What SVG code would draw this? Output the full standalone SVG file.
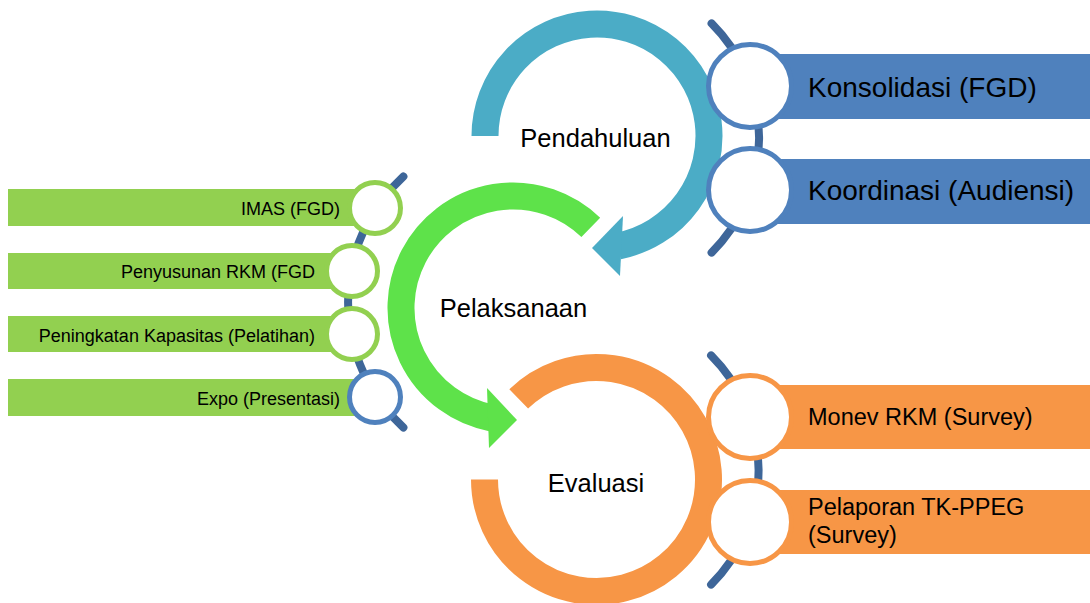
<svg xmlns="http://www.w3.org/2000/svg" width="1090" height="603" viewBox="0 0 1090 603">
<style>
text{font-family:"Liberation Sans",Arial,sans-serif;fill:#000}
.stage{font-size:25.5px;text-anchor:middle}
.arc{fill:none;stroke-width:27;stroke-linecap:butt}
.conn{fill:none;stroke:#3E6699;stroke-width:8;stroke-linecap:round}
.bc{fill:#fff;stroke:#4F81BD;stroke-width:5}
.oc{fill:#fff;stroke:#F79646;stroke-width:5}
.gc{fill:#fff;stroke:#92D050;stroke-width:5}
.gcb{fill:#fff;stroke:#4F81BD;stroke-width:5}
.br{fill:#4F81BD}
.or{fill:#F79646}
.gr{fill:#92D050}
.bt{font-size:28px}
.ot{font-size:23.5px}
.gt{font-size:18px;text-anchor:end}
</style>
<rect width="1090" height="603" fill="#fff"/>
<g id="stage-pendahuluan">
<path class="arc" stroke="#4BACC6" d="M485,136 A112,112 0 1 1 618.4,245.9"/>
<polygon fill="#4BACC6" points="623,216 592,248 620,276"/>
<text class="stage" x="595.5" y="147">Pendahuluan</text>
</g>
<g id="stage-pelaksanaan">
<path class="arc" stroke="#5EE24A" d="M590.8,227.4 A112,112 0 1 0 491.6,417.9"/>
<polygon fill="#5EE24A" points="487,388 517,420 489,448"/>
<text class="stage" x="513.5" y="317">Pelaksanaan</text>
</g>
<g id="stage-evaluasi">
<path class="arc" stroke="#F79646" d="M518.7,398.9 A112,112 0 1 1 484.5,479.5"/>
<text class="stage" x="596" y="492">Evaluasi</text>
</g>
<g id="connectors">
<path class="conn" d="M711.6,23.4 A162,162 0 0 1 711.6,252.6"/>
<path class="conn" d="M711.1,355.4 A162,162 0 0 1 711.1,584.6"/>
<path class="conn" d="M403.4,176.5 A170,170 0 0 0 403.4,427.5"/>
</g>
<g id="item-konsolidasi">
<rect class="br" x="750" y="54" width="340" height="65"/>
<circle class="bc" cx="750" cy="86" r="41.5"/>
<text class="bt" x="808" y="97">Konsolidasi (FGD)</text>
</g>
<g id="item-koordinasi">
<rect class="br" x="750" y="159" width="340" height="65"/>
<circle class="bc" cx="750" cy="190" r="41.5"/>
<text class="bt" x="808" y="200">Koordinasi (Audiensi)</text>
</g>
<g id="item-monev">
<rect class="or" x="750" y="385" width="340" height="64"/>
<circle class="oc" cx="750" cy="417" r="41.5"/>
<text class="ot" x="808" y="425">Monev RKM (Survey)</text>
</g>
<g id="item-pelaporan">
<rect class="or" x="750" y="490" width="340" height="64"/>
<circle class="oc" cx="750" cy="522" r="41.5"/>
<text class="ot" x="808" y="515">Pelaporan TK-PPEG</text>
<text class="ot" x="808" y="543">(Survey)</text>
</g>
<g id="item-imas">
<rect class="gr" x="8" y="189" width="367" height="37"/>
<circle class="gc" cx="375" cy="208" r="25.5"/>
<text class="gt" x="340" y="215">IMAS (FGD)</text>
</g>
<g id="item-penyusunan">
<rect class="gr" x="8" y="253" width="344" height="36"/>
<circle class="gc" cx="352" cy="271" r="25.5"/>
<text class="gt" x="315" y="278">Penyusunan RKM (FGD</text>
</g>
<g id="item-peningkatan">
<rect class="gr" x="8" y="316" width="344" height="36"/>
<circle class="gc" cx="352" cy="334" r="25.5"/>
<text class="gt" x="315" y="342">Peningkatan Kapasitas (Pelatihan)</text>
</g>
<g id="item-expo">
<rect class="gr" x="8" y="379" width="367" height="37"/>
<circle class="gcb" cx="375" cy="397" r="25.5"/>
<text class="gt" x="340" y="405">Expo (Presentasi)</text>
</g>
</svg>
